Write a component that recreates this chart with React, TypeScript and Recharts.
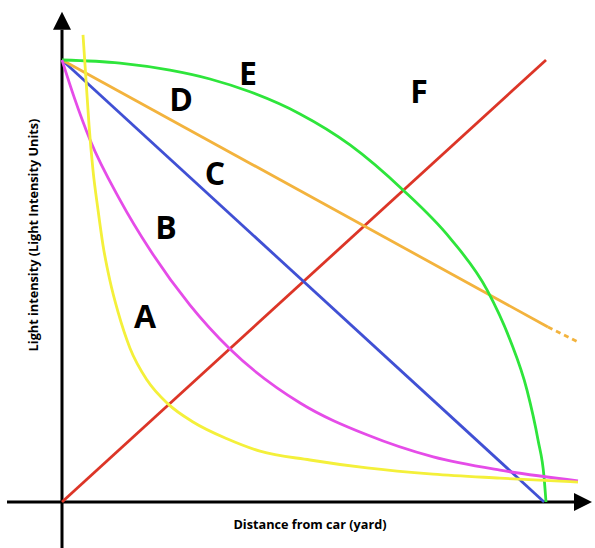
import { Line, LineChart, ReferenceDot, ReferenceLine, XAxis, YAxis } from "recharts";

type Pt = { x: number; y: number };

// curves (x: distance, y: intensity, both 0..10 scale)
const curveA: Pt[] = [
  { x: 0.434, y: 10.57 }, { x: 0.496, y: 9.55 }, { x: 0.558, y: 8.53 }, { x: 0.64, y: 7.51 },
  { x: 0.744, y: 6.61 }, { x: 0.847, y: 5.81 }, { x: 0.992, y: 5.0 }, { x: 1.157, y: 4.3 },
  { x: 1.405, y: 3.48 }, { x: 1.756, y: 2.76 }, { x: 2.19, y: 2.22 }, { x: 2.707, y: 1.81 },
  { x: 3.409, y: 1.43 }, { x: 4.091, y: 1.15 }, { x: 5.124, y: 0.95 }, { x: 6.302, y: 0.77 },
  { x: 7.665, y: 0.63 }, { x: 9.05, y: 0.54 }, { x: 10.66, y: 0.45 },
];
const curveB: Pt[] = [
  { x: 0, y: 10 }, { x: 0.25, y: 9.16 }, { x: 0.58, y: 8.19 }, { x: 1.2, y: 6.83 },
  { x: 1.82, y: 5.7 }, { x: 2.64, y: 4.46 }, { x: 3.47, y: 3.46 }, { x: 4.92, y: 2.24 },
  { x: 6.3, y: 1.52 }, { x: 7.67, y: 1.02 }, { x: 9.05, y: 0.72 }, { x: 10.66, y: 0.48 },
];
const lineC: Pt[] = [{ x: 0, y: 10 }, { x: 9.96, y: 0 }];
const lineD: Pt[] = [{ x: 0, y: 10 }, { x: 10.04, y: 3.96 }];
const lineDExtra: Pt[] = [{ x: 10.04, y: 3.96 }, { x: 10.66, y: 3.62 }];
const curveE: Pt[] = [
  { x: 0, y: 10 }, { x: 1.198, y: 9.93 }, { x: 2.231, y: 9.77 }, { x: 3.058, y: 9.57 },
  { x: 3.884, y: 9.28 }, { x: 4.917, y: 8.78 }, { x: 5.95, y: 8.08 }, { x: 7.045, y: 7.06 },
  { x: 8.017, y: 5.97 }, { x: 8.781, y: 4.8 }, { x: 9.256, y: 3.67 }, { x: 9.607, y: 2.53 },
  { x: 9.835, y: 1.4 }, { x: 9.959, y: 0.57 }, { x: 10, y: 0 },
];
const lineF: Pt[] = [{ x: 0, y: 0 }, { x: 10, y: 10 }];

const letters = ["A", "B", "C", "D", "E", "F"];
const letterX = [1.715, 2.149, 3.161, 2.459, 3.843, 7.376];
const letterY = [4.19, 6.2, 7.44, 9.095, 9.683, 9.276];

const xTitle = "Distance from car (yard)";
const yTitle = "Light intensity (Light Intensity Units)";

const W = 595;
const H = 548;
const X_DOMAIN: [number, number] = [-1.281, 11.012];
const Y_DOMAIN: [number, number] = [-1.041, 11.357];

function Arrow(props: any) {
  const { x1, y1, x2, y2 } = props;
  const dx = x2 - x1;
  const dy = y2 - y1;
  const len = Math.hypot(dx, dy) || 1;
  const ux = dx / len;
  const uy = dy / len;
  const head = 18;
  const half = 9;
  const bx = x2 - ux * head;
  const by = y2 - uy * head;
  return (
    <g>
      <line x1={x1} y1={y1} x2={bx} y2={by} stroke="#000" strokeWidth={3} />
      <polygon
        points={`${x2},${y2} ${bx - uy * half},${by + ux * half} ${bx + uy * half},${by - ux * half}`}
        fill="#000"
      />
    </g>
  );
}

function Letter(text: string) {
  return (props: any) => (
    <text
      x={props.cx}
      y={props.cy + 11.5}
      textAnchor="middle"
      fontFamily="'Open Sans', sans-serif"
      fontWeight={700}
      fontSize={32}
      fill="#000"
    >
      {text}
    </text>
  );
}

const common = {
  dot: false,
  activeDot: false,
  isAnimationActive: false,
  strokeWidth: 2.8,
  dataKey: "y",
} as const;

export default function App() {
  return (
    <div style={{ position: "absolute", left: 0, top: 0, width: W, height: H, background: "#fff" }}>
      <LineChart width={W} height={H} margin={{ top: 0, right: 0, bottom: 0, left: 0 }}>
        <XAxis type="number" dataKey="x" domain={X_DOMAIN} allowDataOverflow hide />
        <YAxis type="number" domain={Y_DOMAIN} allowDataOverflow hide />

        <ReferenceLine
          segment={[{ x: -1.136, y: 0 }, { x: 10.95, y: 0 }]}
          ifOverflow="visible"
          shape={Arrow}
        />
        <ReferenceLine
          segment={[{ x: 0, y: -1.041 }, { x: 0, y: 11.09 }]}
          ifOverflow="visible"
          shape={Arrow}
        />

        <Line {...common} data={lineF} type="linear" stroke="#dc3527" />
        <Line {...common} data={lineC} type="linear" stroke="#4050d4" />
        <Line {...common} data={lineD} type="linear" stroke="#f3b33d" />
        <Line {...common} data={lineDExtra} type="linear" stroke="#f3b33d" strokeDasharray="5 4" />
        <Line {...common} data={curveE} type="monotone" stroke="#2ee53b" />
        <Line {...common} data={curveB} type="monotone" stroke="#e54ce8" />
        <Line {...common} data={curveA} type="monotone" stroke="#f4f03a" />

        {letters.map((l, i) => (
          <ReferenceDot key={l} x={letterX[i]} y={letterY[i]} r={0} ifOverflow="visible" shape={Letter(l)} />
        ))}

        <text
          x={310}
          y={529}
          textAnchor="middle"
          fontFamily="'Open Sans', sans-serif"
          fontWeight={700}
          fontSize={12.7}
          fill="#000"
        >
          {xTitle}
        </text>
        <text
          x={38}
          y={235}
          transform="rotate(-90 38 235)"
          textAnchor="middle"
          fontFamily="'Open Sans', sans-serif"
          fontWeight={700}
          fontSize={12.7}
          fill="#000"
        >
          {yTitle}
        </text>
      </LineChart>
    </div>
  );
}
